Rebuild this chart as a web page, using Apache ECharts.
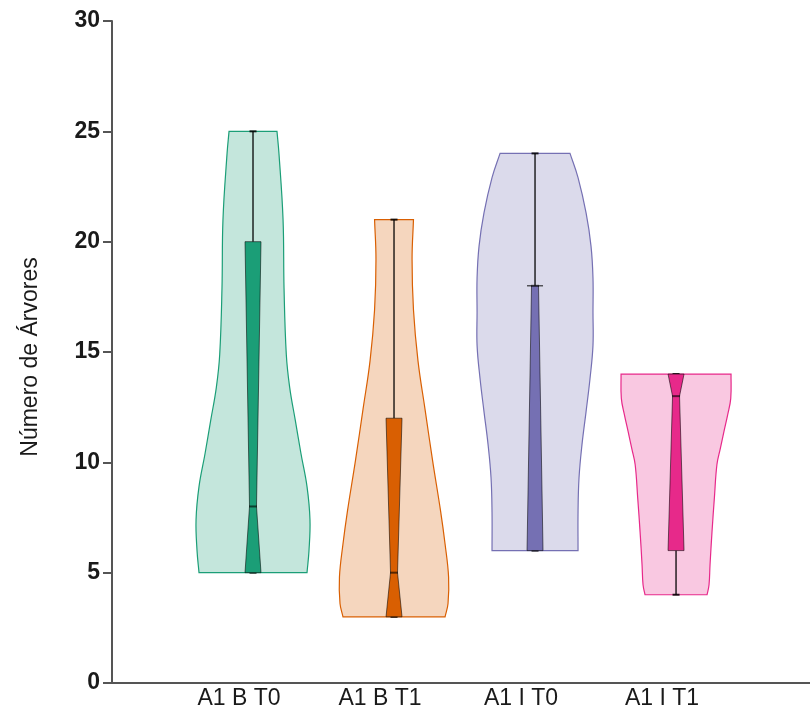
<!DOCTYPE html>
<html>
<head>
<meta charset="utf-8">
<script src="https://cdn.jsdelivr.net/npm/echarts@6/dist/echarts.min.js"></script>
<style>html,body{margin:0;padding:0;background:#fff;}#chart{width:810px;height:717px;}</style>
</head>
<body>
<div id="chart"></div>
<script>
// Categories
const categories = ['A1 B T0', 'A1 B T1', 'A1 I T0', 'A1 I T1'];
const colors = ['#1b9e77', '#d95f02', '#7570b3', '#e7298a'];

// Box statistics
const mins    = [5, 3, 6, 4];
const q1s     = [5, 3, 6, 6];
const medians = [8, 5, 18, 13];
const q3s     = [20, 12, 18, 14];
const maxs    = [25, 21, 24, 14];

// Violin outlines: y values (ascending) and half-widths (in category units)
const violinY_A1BT0 = [5, 6, 7.4, 8.9, 10.4, 11.9, 13.4, 14.9, 17.9, 21, 24, 25];
const violinW_A1BT0 = [0.383, 0.397, 0.404, 0.383, 0.34, 0.3, 0.26, 0.236, 0.22, 0.213, 0.184, 0.17];

const violinY_A1BT1 = [3, 3.6, 4.8, 6.3, 7.8, 10.1, 12.4, 14.6, 16.9, 19.2, 21];
const violinW_A1BT1 = [0.362, 0.383, 0.387, 0.362, 0.33, 0.273, 0.22, 0.17, 0.138, 0.128, 0.138];

const violinY_A1IT0 = [6, 7.75, 9.3, 10.8, 12.3, 13.8, 15.3, 16.8, 18.35, 19.8, 21.3, 22.9, 24];
const violinW_A1IT0 = [0.305, 0.305, 0.312, 0.333, 0.362, 0.39, 0.411, 0.411, 0.411, 0.397, 0.362, 0.305, 0.248];

const violinY_A1IT1 = [4, 4.45, 5.35, 6.85, 8.4, 9.9, 10.6, 11.4, 12.15, 12.9, 14];
const violinW_A1IT1 = [0.22, 0.234, 0.241, 0.255, 0.272, 0.29, 0.313, 0.34, 0.366, 0.388, 0.39];

const violinYs = [violinY_A1BT0, violinY_A1BT1, violinY_A1IT0, violinY_A1IT1];
const violinWs = [violinW_A1BT0, violinW_A1BT1, violinW_A1IT0, violinW_A1IT1];

// Y axis ticks
const yMin = 0, yMax = 30, yStep = 5;

function hexToRgba(hex, a) {
  const r = parseInt(hex.slice(1,3),16), g = parseInt(hex.slice(3,5),16), b = parseInt(hex.slice(5,7),16);
  return 'rgba(' + r + ',' + g + ',' + b + ',' + a + ')';
}

const FONT = '"Liberation Sans", Arial, sans-serif';

const chart = echarts.init(document.getElementById('chart'), null, {renderer: 'canvas'});

const seriesData = categories.map((c, i) => [i + 1, mins[i], q1s[i], medians[i], q3s[i], maxs[i]]);

function renderItem(params, api) {
  const i = params.dataIndex;
  const cx = api.value(0);
  const mn = api.value(1), q1 = api.value(2), md = api.value(3), q3 = api.value(4), mx = api.value(5);
  const ys = violinYs[i], ws = violinWs[i];
  const left = [], right = [];
  for (let k = 0; k < ys.length; k++) {
    left.push(api.coord([cx - ws[k], ys[k]]));
    right.push(api.coord([cx + ws[k], ys[k]]));
  }
  const n = ys.length;
  // duplicate corner points so the flat ends stay sharp while the sides are smoothed
  const leftPts = [left[0]].concat(left, [left[n - 1]]);
  const rightRev = right.slice().reverse();
  const rightPts = [rightRev[0]].concat(rightRev, [rightRev[n - 1]]);
  const pts = leftPts.concat(rightPts);
  const col = colors[i];
  const c = api.coord([cx, md]);
  const px = c[0];
  const yQ1 = api.coord([cx, q1])[1];
  const yQ3 = api.coord([cx, q3])[1];
  const yMd = c[1];
  const yMn = api.coord([cx, mn])[1];
  const yMx = api.coord([cx, mx])[1];
  const w = 8, wn = 3.5, cap = 3.5;
  const children = [];
  children.push({
    type: 'polygon',
    shape: {points: pts, smooth: 0.4},
    style: {fill: hexToRgba(col, 0.26), stroke: col, lineWidth: 1.2}
  });
  // whiskers
  children.push({type: 'line', shape: {x1: px, y1: yQ3, x2: px, y2: yMx}, style: {stroke: 'rgba(0,0,0,0.85)', lineWidth: 1.5}});
  children.push({type: 'line', shape: {x1: px, y1: yQ1, x2: px, y2: yMn}, style: {stroke: 'rgba(0,0,0,0.85)', lineWidth: 1.5}});
  children.push({type: 'line', shape: {x1: px - cap, y1: yMx, x2: px + cap, y2: yMx}, style: {stroke: 'rgba(0,0,0,0.85)', lineWidth: 2}});
  children.push({type: 'line', shape: {x1: px - cap, y1: yMn, x2: px + cap, y2: yMn}, style: {stroke: 'rgba(0,0,0,0.85)', lineWidth: 2}});
  // notched box
  children.push({
    type: 'polygon',
    shape: {points: [[px - w, yQ3], [px + w, yQ3], [px + wn, yMd], [px + w, yQ1], [px - w, yQ1], [px - wn, yMd]]},
    style: {fill: col, stroke: 'rgba(0,0,0,0.55)', lineWidth: 1}
  });
  // median line
  children.push({type: 'line', shape: {x1: px - wn - 0.5, y1: yMd, x2: px + wn + 0.5, y2: yMd}, style: {stroke: 'rgba(0,0,0,0.6)', lineWidth: 2}});
  return {type: 'group', children: children};
}

const option = {
  backgroundColor: '#ffffff',
  animation: false,
  grid: {left: 112, right: 0, top: 21, bottom: 34, containLabel: false},
  xAxis: {
    type: 'value',
    min: 0,
    max: 4.95,
    interval: 1,
    splitLine: {show: false},
    axisTick: {show: false},
    axisLine: {show: true, onZero: false, lineStyle: {color: '#555', width: 2}},
    axisLabel: {
      show: true,
      showMaxLabel: false,
      margin: 4,
      color: '#1a1a1a',
      fontSize: 23,
      fontFamily: FONT,
      padding: [0, 28, 0, 0],
      formatter: function (v) { return categories[v - 1] || ''; }
    }
  },
  yAxis: {
    type: 'value',
    min: yMin,
    max: yMax,
    interval: yStep,
    name: 'Número de Árvores',
    nameLocation: 'middle',
    nameGap: 70,
    nameRotate: 90,
    nameTextStyle: {fontSize: 23, color: '#1a1a1a', fontFamily: FONT, padding: [0, 10, 0, 0]},
    splitLine: {show: false},
    axisLine: {show: true, lineStyle: {color: '#555', width: 2}},
    axisTick: {show: true, length: 9, lineStyle: {color: '#555', width: 2}},
    axisLabel: {fontSize: 23, color: '#1a1a1a', fontFamily: FONT, fontWeight: 'bold', margin: 12}
  },
  series: [{
    type: 'custom',
    renderItem: renderItem,
    encode: {x: 0, y: [1, 2, 3, 4, 5]},
    data: seriesData,
    clip: false
  }]
};
chart.setOption(option);
</script>
</body>
</html>
